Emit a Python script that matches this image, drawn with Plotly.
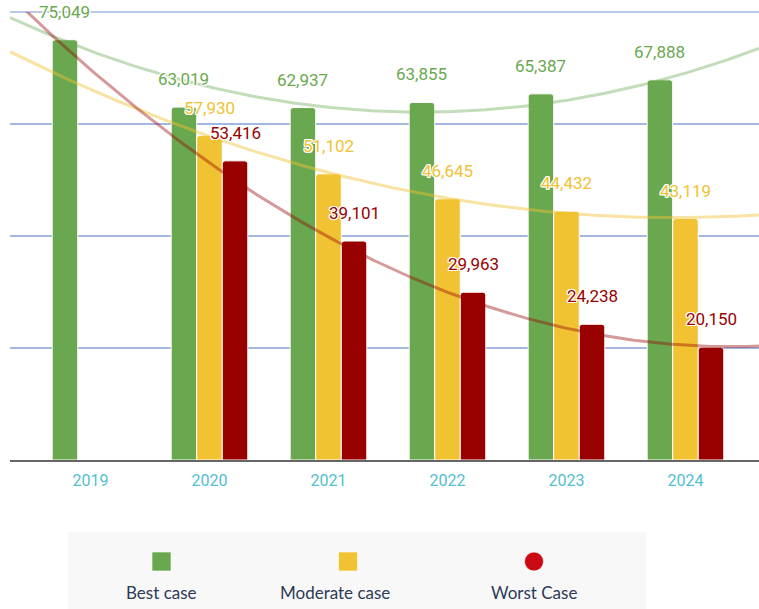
import numpy as np
import plotly.graph_objects as go

years = ["2019", "2020", "2021", "2022", "2023", "2024"]
best_case = [75049, 63019, 62937, 63855, 65387, 67888]
moderate_case = [None, 57930, 51102, 46645, 44432, 43119]
worst_case = [None, 53416, 39101, 29963, 24238, 20150]

series_names = ["Best case", "Moderate case", "Worst Case"]
series_colors = ["#6aa84f", "#f1c232", "#990000"]
legend_colors = ["#6aa84f", "#f1c232", "#cc0a14"]
trend_colors = ["rgba(106,168,79,0.4)", "rgba(241,194,50,0.45)", "rgba(153,0,0,0.4)"]

# page geometry (body margin removed in post_script)
W, H = 759, 609
PLOT_L, PLOT_R, PLOT_T, PLOT_B = 10, 759, 12, 460
ML, MR, MT, MB = PLOT_L, W - PLOT_R, PLOT_T, H - PLOT_B
PW, PH = W - ML - MR, H - MT - MB
X0, X1 = -0.6765, 5.618
BARGAP = 0.356
YMAX = 80000
GRID = "#a4b7e2"


def px_x(p):
    return (p - PLOT_L) / PW


def px_y(p):
    return (PLOT_B - p) / PH


idx = list(range(len(years)))
all_series = [best_case, moderate_case, worst_case]

fig = go.Figure()
for name, vals, col in zip(series_names, all_series, series_colors):
    fig.add_trace(go.Bar(
        x=idx, y=vals, name=name, marker_color=col,
        marker_line_color="white", marker_line_width=1,
        showlegend=False,
    ))

# polynomial (order 2) trendlines fitted to each series
xs = np.linspace(X0, X1, 300)
for vals, tc in zip(all_series, trend_colors):
    pts = [(i, v) for i, v in zip(idx, vals) if v is not None]
    px_, py_ = zip(*pts)
    coef = np.polyfit(px_, py_, 2)
    fig.add_trace(go.Scatter(
        x=xs, y=np.polyval(coef, xs), mode="lines",
        line=dict(color=tc, width=3), showlegend=False, hoverinfo="skip",
    ))

# data labels
w = (1 - BARGAP) / 3
halo = ("1px 1px 0 white, -1px -1px 0 white, 1px -1px 0 white, -1px 1px 0 white, "
        "0 1px 0 white, 0 -1px 0 white, 1px 0 0 white, -1px 0 0 white")
annotations = []
for k, (vals, col) in enumerate(zip(all_series, series_colors)):
    for i, v in zip(idx, vals):
        if v is None:
            continue
        annotations.append(dict(
            x=i + (k - 1) * w, y=v, xref="x", yref="y",
            text=f"{v:,}", showarrow=False, yanchor="middle", yshift=28,
            font=dict(family="Roboto", size=17, color=col, shadow=halo),
        ))

# top gridline (at the range edge)
shapes = [dict(
    type="line", xref="paper", yref="paper", x0=0, x1=1, y0=1, y1=1,
    line=dict(color=GRID, width=1.5), layer="below",
)]
# legend (custom)
shapes.append(dict(
    type="rect", xref="paper", yref="paper",
    x0=px_x(68), x1=px_x(646), y0=px_y(532), y1=px_y(625),
    fillcolor="#f8f8f9", line_width=0, layer="below",
))
legend_cx = [161.5, 348, 534]
legend_text_cx = [161.5, 335, 534]
for k, name in enumerate(series_names):
    cx, cy, r = legend_cx[k], 561.5, 9.5
    shapes.append(dict(
        type="circle" if k == 2 else "rect", xref="paper", yref="paper",
        x0=px_x(cx - r), x1=px_x(cx + r), y0=px_y(cy + r), y1=px_y(cy - r),
        fillcolor=legend_colors[k], line=dict(color="rgba(255,255,255,0.6)", width=1),
    ))
    annotations.append(dict(
        x=px_x(legend_text_cx[k]), y=px_y(592), xref="paper", yref="paper",
        text=name, showarrow=False, xanchor="center", yanchor="middle",
        font=dict(family="Lato", size=17, color="#2d3a56"),
    ))

fig.update_layout(
    width=W, height=H,
    margin=dict(l=ML, r=MR, t=MT, b=MB),
    paper_bgcolor="white", plot_bgcolor="white",
    barmode="group", bargap=BARGAP, bargroupgap=0, barcornerradius=3,
    shapes=shapes, annotations=annotations, showlegend=False,
    xaxis=dict(
        range=[X0, X1], tickvals=idx, ticktext=years, showgrid=False,
        zeroline=False, showline=True, linecolor="#666666", linewidth=2,
        ticks="", tickfont=dict(family="Roboto", size=16, color="#52c0cf"),
        ticklabelstandoff=5,
    ),
    yaxis=dict(
        range=[0, YMAX], tickvals=[20000, 40000, 60000], showticklabels=False,
        gridcolor=GRID, gridwidth=1.5, zeroline=False, ticks="",
    ),
    font=dict(family="Roboto"),
)

fig.write_html(
    "out.html",
    config={"displayModeBar": False},
    post_script="document.body.style.margin='0px';document.body.style.overflow='hidden';",
)
